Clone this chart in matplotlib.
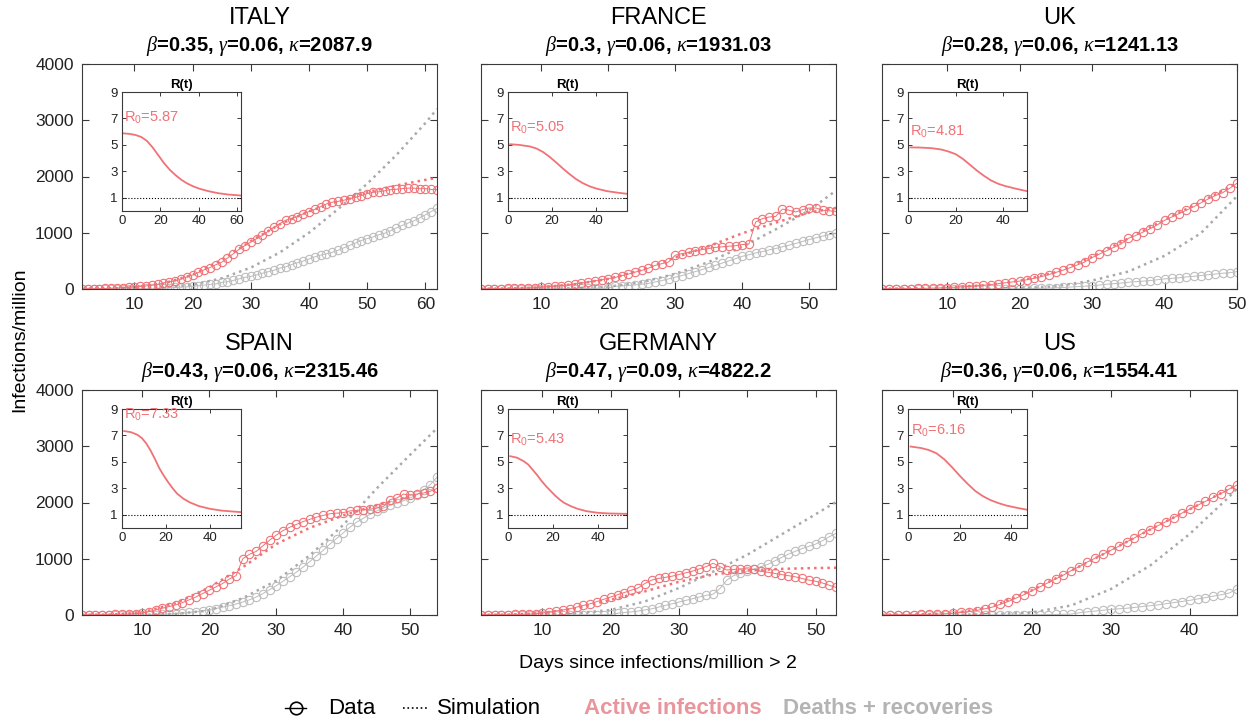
import matplotlib
matplotlib.use("Agg")
import matplotlib.pyplot as plt
from matplotlib.lines import Line2D

plt.rcParams['font.family'] = ['Liberation Sans', 'DejaVu Sans']
plt.rcParams['mathtext.fontset'] = 'custom'
plt.rcParams['mathtext.rm'] = 'Liberation Sans'
plt.rcParams['mathtext.it'] = 'Liberation Serif:italic'
plt.rcParams['mathtext.bf'] = 'Liberation Sans:bold'

# ---- data (per million) ----
countries = ["ITALY", "FRANCE", "UK", "SPAIN", "GERMANY", "US"]
params = [r"$\beta$=0.35, $\gamma$=0.06, $\kappa$=2087.9",
          r"$\beta$=0.3, $\gamma$=0.06, $\kappa$=1931.03",
          r"$\beta$=0.28, $\gamma$=0.06, $\kappa$=1241.13",
          r"$\beta$=0.43, $\gamma$=0.06, $\kappa$=2315.46",
          r"$\beta$=0.47, $\gamma$=0.09, $\kappa$=4822.2",
          r"$\beta$=0.36, $\gamma$=0.06, $\kappa$=1554.41"]
r0_values = [5.87, 5.05, 4.81, 7.33, 5.43, 6.16]

italy_active = [2.5, 3.7, 5.2, 6.4, 9.7, 13.6, 17, 26, 30, 37, 45, 55, 65, 84, 106, 132, 141, 175, 213, 248,
                294, 341, 382, 432, 476, 550, 627, 707, 773, 835, 895, 953, 1027, 1100, 1161, 1224, 1251, 1286,
                1335, 1376, 1415, 1462, 1512, 1544, 1558, 1578, 1605, 1628, 1661, 1694, 1717, 1728, 1746, 1766,
                1772, 1785, 1793, 1793, 1784, 1784, 1770, 1765]
italy_removed = [0, 0, 0, 0, 1, 1, 1, 2, 3, 4, 6, 9, 12, 14, 16, 20, 27, 31, 38, 45, 56, 69, 81, 90, 116, 130,
                 152, 181, 207, 224, 251, 279, 307, 333, 371, 394, 434, 466, 497, 533, 571, 602, 625, 652, 688,
                 732, 775, 817, 862, 896, 926, 964, 990, 1033, 1085, 1129, 1172, 1209, 1263, 1319, 1377, 1433]
italy_sim_days = [1, 5, 10, 15, 20, 25, 30, 35, 40, 45, 50, 55, 60, 62]
italy_sim_active = [3, 8, 30, 100, 250, 520, 850, 1150, 1380, 1560, 1720, 1840, 1940, 1975]
italy_sim_removed = [0, 2, 8, 30, 75, 190, 380, 650, 1000, 1420, 1870, 2380, 2950, 3200]
italy_rt_days = [1, 4, 7, 10, 13, 16, 19, 22, 25, 28, 31, 34, 37, 40, 45, 50, 55, 62]
italy_rt = [5.87, 5.83, 5.75, 5.6, 5.3, 4.8, 4.2, 3.6, 3.1, 2.7, 2.35, 2.08, 1.87, 1.7, 1.5, 1.35, 1.25, 1.17]

france_active = [2, 3, 4, 6, 9, 12, 15, 20, 25, 32, 40, 50, 60, 75, 90, 105, 125, 145, 165, 185,
                 205, 235, 265, 300, 330, 370, 420, 450, 480, 600, 630, 650, 680, 700, 720, 740, 750, 760,
                 770, 790, 800, 1190, 1250, 1280, 1290, 1420, 1400, 1370, 1410, 1440, 1440, 1400, 1390, 1380]
france_removed = [0, 0, 0, 0, 1, 1, 1, 2, 2, 3, 3, 4, 5, 6, 7, 9, 10, 12, 14, 16,
                  50, 55, 62, 72, 85, 100, 125, 150, 180, 210, 240, 275, 310, 345, 385, 420, 460, 500,
                  540, 580, 610, 640, 665, 695, 720, 750, 780, 810, 845, 880, 910, 940, 965, 990]
france_sim_days = [1, 5, 10, 15, 20, 25, 30, 35, 40, 45, 50, 54]
france_sim_active = [2, 8, 30, 85, 180, 340, 560, 760, 990, 1180, 1360, 1440]
france_sim_removed = [0, 1, 5, 15, 40, 120, 270, 480, 750, 1060, 1400, 1750]
france_rt_days = [1, 5, 10, 13, 16, 19, 22, 25, 28, 31, 34, 37, 40, 45, 50, 54]
france_rt = [5.05, 5.0, 4.88, 4.72, 4.45, 4.08, 3.65, 3.2, 2.78, 2.4, 2.1, 1.87, 1.7, 1.5, 1.38, 1.3]

uk_active = [3, 4, 5, 6, 8, 10, 13, 16, 20, 25, 31, 38, 46, 56, 67, 80, 94, 110, 125, 140,
             165, 190, 220, 255, 295, 335, 380, 430, 480, 560, 620, 680, 740, 800, 900, 950, 1010, 1070,
             1140, 1220, 1280, 1340, 1400, 1460, 1530, 1600, 1660, 1710, 1790, 1880]
uk_removed = [0, 0, 0, 0, 0, 0, 0, 0, 0, 1, 1, 1, 1, 2, 2, 2, 3, 3, 4, 5,
              8, 10, 13, 16, 20, 28, 35, 42, 50, 60, 70, 85, 95, 105, 120, 130, 140, 150, 165, 180,
              190, 200, 215, 225, 240, 255, 265, 280, 290, 310]
uk_sim_days = [1, 5, 10, 15, 20, 25, 30, 35, 40, 45, 50]
uk_sim_active = [3, 8, 25, 65, 145, 300, 570, 900, 1230, 1550, 1880]
uk_sim_removed = [0, 0, 1, 4, 15, 48, 150, 310, 590, 990, 1650]
uk_rt_days = [1, 5, 10, 14, 17, 20, 23, 26, 29, 32, 35, 38, 41, 45, 50]
uk_rt = [4.81, 4.8, 4.75, 4.65, 4.5, 4.3, 3.95, 3.5, 3.05, 2.65, 2.3, 2.05, 1.88, 1.7, 1.5]

spain_active = [2, 3, 4, 5, 7, 9, 12, 18, 25, 35, 60, 90, 120, 150, 180, 220, 270, 320, 380, 440,
                500, 560, 640, 700, 1000, 1080, 1130, 1230, 1330, 1420, 1500, 1560, 1610, 1660, 1700,
                1740, 1770, 1800, 1810, 1820, 1850, 1860, 1870, 1880, 1900, 1930, 2050, 2080, 2150, 2130,
                2150, 2170, 2200, 2250]
spain_removed = [0, 0, 0, 0, 0, 1, 1, 2, 3, 4, 6, 8, 12, 18, 25, 35, 45, 60, 75, 95,
                 115, 140, 165, 195, 230, 270, 320, 380, 450, 520, 600, 680, 760, 850, 950, 1050, 1150,
                 1260, 1360, 1460, 1560, 1650, 1720, 1790, 1850, 1900, 1950, 1990, 2030, 2080, 2140, 2220,
                 2320, 2450]
spain_sim_days = [1, 5, 10, 15, 20, 25, 30, 35, 40, 45, 50, 54]
spain_sim_active = [2, 5, 45, 210, 490, 850, 1260, 1550, 1770, 1950, 2100, 2220]
spain_sim_removed = [0, 0, 3, 20, 80, 300, 610, 1060, 1600, 2250, 2850, 3320]
spain_rt_days = [1, 4, 7, 9, 11, 13, 15, 17, 19, 21, 23, 25, 28, 31, 35, 40, 45, 50, 54]
spain_rt = [7.33, 7.25, 7.05, 6.8, 6.4, 5.85, 5.2, 4.5, 3.95, 3.45, 3.0, 2.6, 2.2, 1.92, 1.65, 1.45, 1.32, 1.25, 1.2]

germany_active = [2, 3, 4, 5, 7, 9, 12, 16, 22, 35, 50, 70, 90, 110, 140, 170, 200, 240, 280, 320,
                  360, 400, 440, 480, 560, 620, 650, 670, 690, 720, 750, 780, 820, 860, 920, 860, 800,
                  810, 820, 820, 810, 780, 760, 740, 720, 700, 680, 650, 620, 600, 570, 530, 490]
germany_removed = [0, 0, 0, 0, 0, 0, 0, 0, 0, 1, 1, 2, 2, 3, 3, 4, 5, 6, 8, 10,
                   30, 45, 55, 70, 90, 110, 140, 170, 200, 230, 260, 290, 320, 350, 370, 470, 620, 700,
                   740, 780, 820, 860, 900, 960, 1020, 1080, 1130, 1180, 1220, 1260, 1320, 1390, 1450]
germany_sim_days = [1, 5, 10, 15, 20, 25, 30, 35, 40, 45, 50, 53]
germany_sim_active = [2, 6, 35, 120, 270, 420, 590, 720, 790, 820, 835, 840]
germany_sim_removed = [0, 0, 5, 30, 90, 240, 480, 770, 1070, 1430, 1790, 2010]
germany_rt_days = [1, 4, 7, 9, 11, 13, 15, 17, 19, 21, 23, 25, 28, 31, 35, 40, 45, 50, 53]
germany_rt = [5.43, 5.32, 5.05, 4.8, 4.4, 4.0, 3.55, 3.15, 2.8, 2.45, 2.15, 1.9, 1.65, 1.45, 1.27, 1.15, 1.1, 1.08, 1.07]

us_active = [2, 3, 4, 5, 7, 9, 12, 16, 22, 30, 45, 60, 80, 110, 140, 190, 240, 300, 360, 430,
             500, 570, 640, 710, 790, 860, 940, 1010, 1080, 1150, 1220, 1300, 1370, 1450, 1520, 1590,
             1660, 1730, 1810, 1880, 1950, 2020, 2090, 2160, 2240, 2310]
us_removed = [0, 0, 0, 0, 0, 0, 0, 0, 0, 0, 0, 1, 1, 1, 2, 2, 3, 3, 4, 5,
              6, 8, 10, 12, 15, 40, 55, 70, 85, 100, 110, 120, 135, 150, 165, 180, 200, 220, 240, 260,
              285, 310, 335, 360, 390, 460]
us_sim_days = [1, 5, 10, 15, 20, 25, 30, 35, 40, 45, 46]
us_sim_active = [2, 7, 30, 150, 440, 790, 1150, 1520, 1880, 2240, 2310]
us_sim_removed = [0, 0, 3, 15, 45, 170, 460, 880, 1440, 2100, 2250]
us_rt_days = [1, 5, 8, 11, 14, 17, 20, 23, 26, 29, 32, 35, 38, 42, 46]
us_rt = [6.16, 6.05, 5.9, 5.65, 5.2, 4.6, 3.95, 3.35, 2.8, 2.4, 2.1, 1.88, 1.7, 1.53, 1.38]

panels = [
    (italy_active, italy_removed, italy_sim_days, italy_sim_active, italy_sim_removed, italy_rt_days, italy_rt),
    (france_active, france_removed, france_sim_days, france_sim_active, france_sim_removed, france_rt_days, france_rt),
    (uk_active, uk_removed, uk_sim_days, uk_sim_active, uk_sim_removed, uk_rt_days, uk_rt),
    (spain_active, spain_removed, spain_sim_days, spain_sim_active, spain_sim_removed, spain_rt_days, spain_rt),
    (germany_active, germany_removed, germany_sim_days, germany_sim_active, germany_sim_removed, germany_rt_days, germany_rt),
    (us_active, us_removed, us_sim_days, us_sim_active, us_sim_removed, us_rt_days, us_rt),
]

RED = '#F07276'
GRAY = '#BDBDBD'
AXC = '#3a3a3a'

W, H = 1256, 723
fig = plt.figure(figsize=(W / 100, H / 100), dpi=100)


def box(l, t, w, h):
    return [l / W, 1 - (t + h) / H, w / W, h / H]


lefts = [82, 481, 882]
tops = [64, 390]
inset_left = [40, 27, 26]
inset_top = [28, 19]

for i, (name, par, r0, p) in enumerate(zip(countries, params, r0_values, panels)):
    active, removed, sdays, sact, srem, rdays, rt = p
    row, col = divmod(i, 3)
    L, T = lefts[col], tops[row]
    n = len(active)
    days = list(range(1, n + 1))

    ax = fig.add_axes(box(L, T, 355, 225))
    ax.plot(days, removed, 'o-', color=GRAY, mfc='none', ms=6, mew=0.8, lw=0.7)
    ax.plot(sdays, srem, ':', color='#AAAAAA', lw=1.8)
    ax.plot(days, active, 'o-', color=RED, mfc='none', ms=6, mew=0.8, lw=0.7)
    ax.plot(sdays, sact, ':', color=RED, lw=1.8)
    ax.set_xlim(1, n)
    ax.set_ylim(0, 4000)
    ax.set_yticks([0, 1000, 2000, 3000, 4000])
    ax.set_xticks(list(range(10, n + 1, 10)))
    if col != 0:
        ax.set_yticklabels([])
    ax.tick_params(direction='in', top=True, right=True, length=5, width=0.8,
                   labelsize=12.5, colors=AXC, labelcolor='#222222', pad=6)
    for s in ax.spines.values():
        s.set_color(AXC)
        s.set_linewidth(0.8)

    cx = (L + 355 / 2) / W
    fig.text(cx, 1 - (T - 46) / H, name, ha='center', va='center', fontsize=17)
    fig.text(cx, 1 - (T - 18) / H, par, ha='center', va='center', fontsize=14.5, fontweight='bold')

    ins = fig.add_axes(box(L + inset_left[col], T + inset_top[row], 119, 119))
    ins.plot(rdays, rt, '-', color=RED, lw=1.3)
    ins.axhline(1, color='black', ls=':', lw=0.8)
    ins.set_xlim(0, n)
    ins.set_ylim(0, 9)
    ins.set_yticks([1, 3, 5, 7, 9])
    ins.set_xticks(list(range(0, n + 1, 20)))
    ins.tick_params(direction='in', top=True, right=True, length=3, width=0.7,
                    labelsize=9.5, colors=AXC, labelcolor='#222222', pad=3)
    for s in ins.spines.values():
        s.set_color(AXC)
        s.set_linewidth(0.8)
    ins.set_title('R(t)', fontsize=9.5, fontweight='bold', pad=3)
    ins.text(1, r0 + 1.2, r"R$_{0}$=%.2f" % r0, color=RED, fontsize=10.5, ha='left', va='center')

fig.text(20 / W, 1 - 340 / H, 'Infections/million', rotation=90, ha='center', va='center', fontsize=14)
fig.text(658 / W, 1 - 664 / H, 'Days since infections/million > 2', ha='center', va='center', fontsize=14)

# legend row
ly = 1 - 708 / H
fig.add_artist(Line2D([285 / W, 306 / W], [ly, ly], color='black', lw=1.0))
fig.add_artist(Line2D([295.5 / W], [ly], marker='o', mfc='none', mec='black', ms=9, mew=1.2))
fig.text(328 / W, ly, 'Data', ha='left', va='center', fontsize=16)
fig.add_artist(Line2D([403 / W, 428 / W], [ly, ly], color='black', lw=1.2, ls=':'))
fig.text(437 / W, ly, 'Simulation', ha='left', va='center', fontsize=16)
fig.text(584 / W, ly, 'Active infections', ha='left', va='center', fontsize=16,
         fontweight='bold', color='#E8959C')
fig.text(783 / W, ly, 'Deaths + recoveries', ha='left', va='center', fontsize=16,
         fontweight='bold', color='#B4B4B4')

fig.savefig('out.png', dpi=100)
